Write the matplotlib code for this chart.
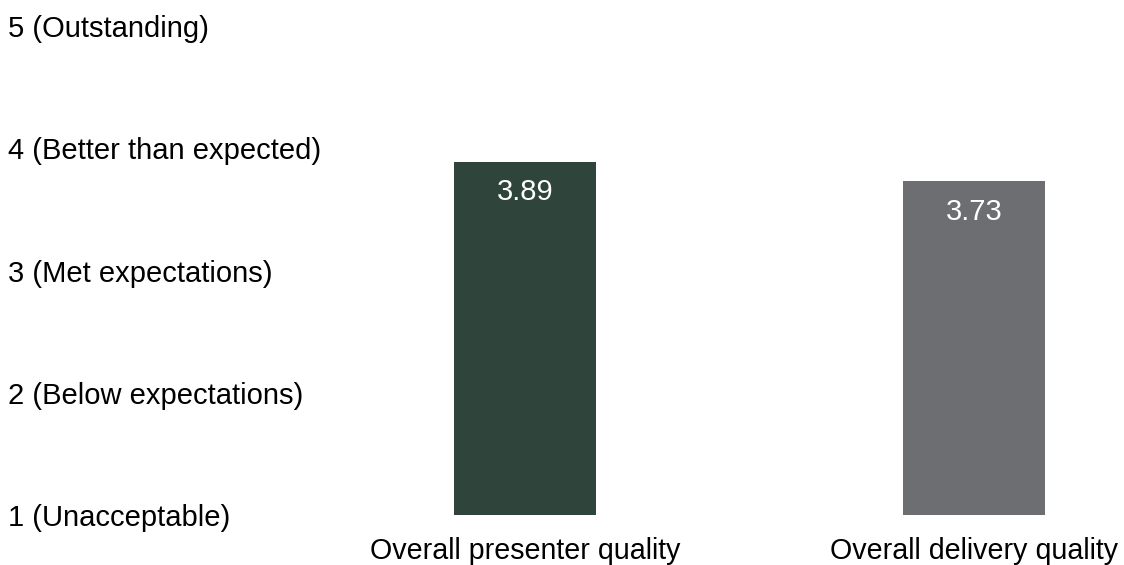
import matplotlib
matplotlib.use("Agg")
import matplotlib.pyplot as plt

plt.rcParams["font.family"] = ["Liberation Sans", "DejaVu Sans"]

# data
categories = ["Overall presenter quality", "Overall delivery quality"]
scores = [3.89, 3.73]
bar_colours = ["#2f453c", "#6d6e71"]
tick_values = [1, 2, 3, 4, 5]
tick_labels = [
    "1 (Unacceptable)",
    "2 (Below expectations)",
    "3 (Met expectations)",
    "4 (Better than expected)",
    "5 (Outstanding)",
]

W, H = 1124, 565
fig = plt.figure(figsize=(W / 100, H / 100), dpi=100)
left_px, right_px = 340, 1124
bottom_px, top_px = 515, 26
ax = fig.add_axes([left_px / W, (H - bottom_px) / H,
                   (right_px - left_px) / W, (bottom_px - top_px) / H])

x = [0, 1]
base = 1
bars = ax.bar(x, [s - base for s in scores], bottom=base, width=0.316,
              color=bar_colours)

for b, s in zip(bars, scores):
    ax.annotate(f"{s:.2f}", (b.get_x() + b.get_width() / 2, s),
                xytext=(0, -22), textcoords="offset points",
                ha="center", va="center", color="white", fontsize=21)

ax.set_xlim(-0.412, 1.334)
ax.set_ylim(1, 5)
ax.set_xticks(x)
ax.set_xticklabels(categories, fontsize=20.6)
ax.set_yticks(tick_values)
ax.set_yticklabels(tick_labels, fontsize=21)
for lab in ax.get_yticklabels():
    lab.set_horizontalalignment("left")
ax.tick_params(axis="y", length=0, pad=(left_px - 8) * 0.72)
ax.tick_params(axis="x", length=0, pad=16)
for sp in ax.spines.values():
    sp.set_visible(False)

fig.savefig("out.png", dpi=100)
